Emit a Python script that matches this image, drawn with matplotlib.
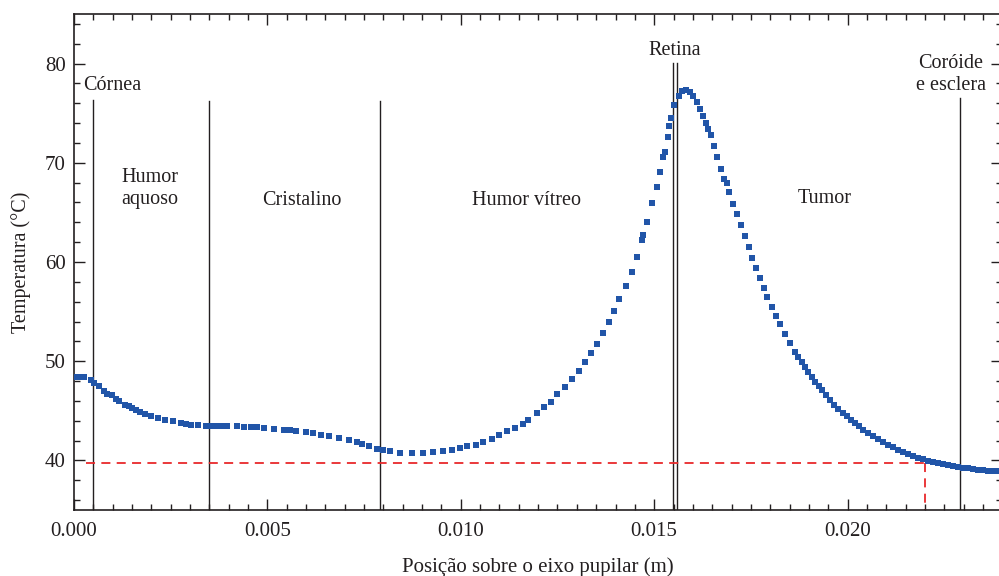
import numpy as np
import matplotlib.pyplot as plt
from matplotlib.ticker import MultipleLocator

# Perfil de temperatura ao longo do eixo pupilar
pos = [0.00000, 0.00013, 0.00026, 0.00043, 0.00053, 0.00065, 0.00078, 0.00086, 0.00097,
       0.00108, 0.00116, 0.00131, 0.00141, 0.00151, 0.00161, 0.00171, 0.00183, 0.00200,
       0.00217, 0.00234, 0.00255, 0.00276, 0.00290, 0.00302, 0.00321, 0.00340, 0.00353,
       0.00366, 0.00381, 0.00396, 0.00422, 0.00440, 0.00457, 0.00474, 0.00491, 0.00517,
       0.00543, 0.00558, 0.00573, 0.00599, 0.00619, 0.00638, 0.00659, 0.00685, 0.00711,
       0.00731, 0.00745, 0.00763, 0.00783, 0.00800, 0.00817, 0.00843, 0.00873, 0.00903,
       0.00929, 0.00955, 0.00976, 0.00998, 0.01017, 0.01039, 0.01058, 0.01080, 0.01100,
       0.01119, 0.01140, 0.01160, 0.01175, 0.01196, 0.01215, 0.01232, 0.01250, 0.01269,
       0.01288, 0.01306, 0.01321, 0.01336, 0.01353, 0.01367, 0.01382, 0.01397, 0.01410,
       0.01426, 0.01442, 0.01455, 0.01468, 0.01472, 0.01482, 0.01495, 0.01506, 0.01515,
       0.01524, 0.01528, 0.01535, 0.01539, 0.01543, 0.01552, 0.01563, 0.01571, 0.01582,
       0.01593, 0.01601, 0.01610, 0.01618, 0.01625, 0.01634, 0.01640, 0.01646, 0.01655,
       0.01663, 0.01672, 0.01680, 0.01687, 0.01694, 0.01704, 0.01715, 0.01724, 0.01735,
       0.01745, 0.01754, 0.01763, 0.01774, 0.01784, 0.01792, 0.01804, 0.01815, 0.01825,
       0.01838, 0.01851, 0.01864, 0.01872, 0.01881, 0.01890, 0.01898, 0.01907, 0.01916,
       0.01925, 0.01933, 0.01944, 0.01955, 0.01966, 0.01976, 0.01987, 0.01998, 0.02008,
       0.02019, 0.02030, 0.02041, 0.02053, 0.02066, 0.02079, 0.02092, 0.02105, 0.02118,
       0.02131, 0.02144, 0.02157, 0.02170, 0.02183, 0.02196, 0.02209, 0.02222, 0.02235,
       0.02247, 0.02260, 0.02273, 0.02286, 0.02299, 0.02312, 0.02325, 0.02338, 0.02351,
       0.02364, 0.02377, 0.02390]
temp = [48.42, 48.42, 48.40, 48.06, 47.78, 47.45, 46.98, 46.70, 46.55,
        46.20, 45.97, 45.60, 45.44, 45.27, 45.06, 44.86, 44.63, 44.46,
        44.26, 44.10, 43.93, 43.76, 43.67, 43.60, 43.52, 43.49, 43.49,
        43.49, 43.49, 43.49, 43.46, 43.41, 43.36, 43.32, 43.29, 43.19,
        43.09, 43.02, 42.95, 42.85, 42.75, 42.59, 42.42, 42.25, 42.01,
        41.81, 41.62, 41.41, 41.18, 41.06, 40.94, 40.78, 40.74, 40.74,
        40.81, 40.94, 41.08, 41.24, 41.41, 41.58, 41.81, 42.15, 42.59,
        42.95, 43.29, 43.70, 44.10, 44.77, 45.37, 45.87, 46.65, 47.38,
        48.22, 49.06, 49.90, 50.81, 51.75, 52.86, 53.93, 55.04, 56.28,
        57.62, 59.03, 60.47, 62.20, 62.76, 64.00, 65.91, 67.52, 69.03,
        70.54, 71.05, 72.63, 73.67, 74.50, 75.85, 76.76, 77.26, 77.33,
        77.10, 76.76, 76.09, 75.42, 74.74, 73.97, 73.40, 72.80, 71.72,
        70.54, 69.37, 68.36, 67.92, 67.02, 65.88, 64.80, 63.70, 62.60,
        61.48, 60.41, 59.37, 58.40, 57.39, 56.45, 55.51, 54.60, 53.77,
        52.76, 51.81, 50.91, 50.40, 49.90, 49.40, 48.89, 48.40, 47.89,
        47.45, 47.05, 46.55, 46.04, 45.60, 45.21, 44.80, 44.43, 44.10,
        43.76, 43.42, 43.09, 42.75, 42.42, 42.12, 41.84, 41.58, 41.34,
        41.08, 40.84, 40.62, 40.43, 40.25, 40.10, 39.96, 39.83, 39.71,
        39.60, 39.50, 39.40, 39.33, 39.26, 39.19, 39.12, 39.05, 38.99,
        38.95, 38.92, 38.90]

# Fronteiras entre os tecidos: (posição, topo da linha)
fronteiras = [0.00049, 0.00350, 0.00791, 0.01549, 0.01558, 0.02290]
topos = [76.3, 76.2, 76.2, 80.1, 80.1, 76.5]

rotulos = ['Córnea', 'Humor\naquoso', 'Cristalino', 'Humor vítreo', 'Retina', 'Tumor', 'Coróide\ne esclera']
rotulos_x = [0.00023, 0.00196, 0.00589, 0.01169, 0.01553, 0.01942, 0.02267]
rotulos_y = [77.8, 67.4, 66.2, 66.2, 81.3, 66.4, 78.9]

temp_limite = 39.7
pos_limite = 0.0220

plt.rcParams['font.family'] = ['Liberation Serif', 'DejaVu Serif']
cor_txt = '#231f20'

fig = plt.figure(figsize=(9.99, 5.76), dpi=100)
ax = fig.add_axes([74 / 999, 66 / 576, 928.3 / 999, 496 / 576])

ax.plot(pos, temp, 's', color='#2155a8', markersize=3.9, markeredgewidth=0, zorder=3)

for xf, yt in zip(fronteiras, topos):
    ax.plot([xf, xf], [35, yt], color='#231f20', lw=1.0, zorder=2)

ax.plot([0.0003, pos_limite], [temp_limite, temp_limite], '--', color='#e8292b', lw=1.3, dashes=(5, 3.5))
ax.plot([pos_limite, pos_limite], [temp_limite, 35], '--', color='#e8292b', lw=1.3, dashes=(5, 3.5))

for t, xr, yr in zip(rotulos, rotulos_x, rotulos_y):
    ha = 'left' if t == 'Córnea' else 'center'
    ax.text(xr, yr, t, ha=ha, va='center', fontsize=14.5, color=cor_txt, linespacing=1.2)

ax.set_xlim(0, 0.024)
ax.set_ylim(35, 85)
ax.xaxis.set_major_locator(MultipleLocator(0.005))
ax.xaxis.set_minor_locator(MultipleLocator(0.0005))
ax.yaxis.set_major_locator(MultipleLocator(10))
ax.yaxis.set_minor_locator(MultipleLocator(2))
ax.xaxis.set_major_formatter(plt.FuncFormatter(lambda v, p: f'{v:.3f}'))

ax.tick_params(which='both', direction='in', top=True, right=True, colors=cor_txt, width=1.0)
ax.tick_params(which='major', length=8, labelsize=15, pad=6)
ax.tick_params(axis='x', which='major', pad=9)
ax.tick_params(which='minor', length=4)
for s in ax.spines.values():
    s.set_color(cor_txt)
    s.set_linewidth(1.2)

ax.set_xlabel('Posição sobre o eixo pupilar (m)', fontsize=15, color=cor_txt, labelpad=11)
ax.set_ylabel('Temperatura (°C)', fontsize=14.5, color=cor_txt, labelpad=10)

fig.savefig('out.png', dpi=100)
